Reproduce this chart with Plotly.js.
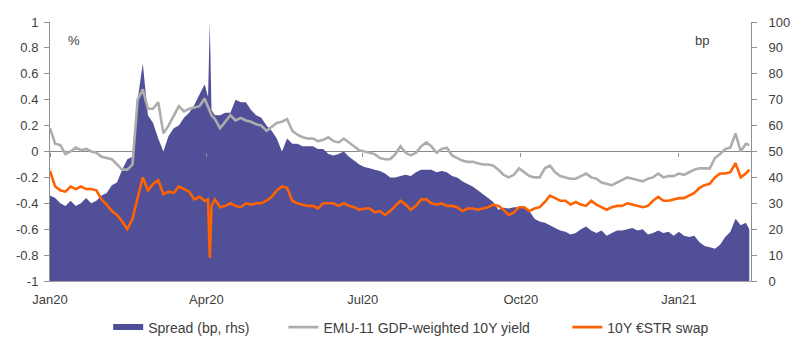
<!DOCTYPE html>
<html><head><meta charset="utf-8">
<script src="https://cdn.plot.ly/plotly-3.0.1.min.js"></script>
<style>html,body{margin:0;padding:0;background:#fff}#chart{width:800px;height:354px}</style>
</head><body><div id="chart"></div>
<script>
const dates = [
'2020-01-01','2020-01-04','2020-01-07','2020-01-10','2020-01-13','2020-01-16','2020-01-19','2020-01-22','2020-01-25','2020-01-28','2020-01-31',
'2020-02-03','2020-02-06','2020-02-09','2020-02-12','2020-02-15','2020-02-18','2020-02-21','2020-02-24','2020-02-27',
'2020-03-01','2020-03-04','2020-03-07','2020-03-10','2020-03-13','2020-03-16','2020-03-19','2020-03-22','2020-03-25','2020-03-28','2020-03-31',
'2020-04-02','2020-04-03','2020-04-04','2020-04-06','2020-04-09','2020-04-12','2020-04-15','2020-04-18','2020-04-21','2020-04-24','2020-04-27','2020-04-30',
'2020-05-03','2020-05-06','2020-05-09','2020-05-12','2020-05-15','2020-05-18','2020-05-21','2020-05-24','2020-05-27','2020-05-30',
'2020-06-02','2020-06-05','2020-06-08','2020-06-11','2020-06-14','2020-06-17','2020-06-20','2020-06-23','2020-06-26','2020-06-29',
'2020-07-02','2020-07-05','2020-07-08','2020-07-11','2020-07-14','2020-07-17','2020-07-20','2020-07-23','2020-07-26','2020-07-29',
'2020-08-01','2020-08-04','2020-08-07','2020-08-10','2020-08-13','2020-08-16','2020-08-19','2020-08-22','2020-08-25','2020-08-28','2020-08-31',
'2020-09-03','2020-09-06','2020-09-09','2020-09-12','2020-09-15','2020-09-18','2020-09-21','2020-09-24','2020-09-27','2020-09-30',
'2020-10-03','2020-10-06','2020-10-09','2020-10-12','2020-10-15','2020-10-18','2020-10-21','2020-10-24','2020-10-27','2020-10-30',
'2020-11-02','2020-11-05','2020-11-08','2020-11-11','2020-11-14','2020-11-17','2020-11-20','2020-11-23','2020-11-26','2020-11-29',
'2020-12-02','2020-12-05','2020-12-08','2020-12-11','2020-12-14','2020-12-17','2020-12-20','2020-12-23','2020-12-26','2020-12-29',
'2021-01-01','2021-01-04','2021-01-07','2021-01-10','2021-01-13','2021-01-16','2021-01-19','2021-01-22','2021-01-25','2021-01-28','2021-01-31',
'2021-02-03','2021-02-06','2021-02-09','2021-02-11'
];

// EMU-11 GDP-weighted 10Y yield (%)
const emuYield = [
0.18,0.06,0.05,-0.02,0.00,0.03,0.01,0.02,0.00,-0.01,-0.04,
-0.05,-0.06,-0.10,-0.14,-0.14,-0.10,0.40,0.48,0.33,
0.33,0.38,0.14,0.20,0.27,0.35,0.31,0.33,0.34,0.35,0.41,
0.34,0.30,0.28,0.25,0.18,0.23,0.28,0.24,0.26,0.24,0.23,0.21,
0.20,0.16,0.19,0.22,0.23,0.25,0.16,0.13,0.11,0.10,
0.10,0.08,0.09,0.11,0.08,0.07,0.10,0.07,0.04,0.01,
0.00,-0.01,-0.02,-0.05,-0.06,-0.06,-0.02,0.04,-0.01,-0.03,
-0.01,0.04,0.07,0.04,-0.01,0.02,0.03,-0.03,-0.05,-0.07,-0.08,
-0.08,-0.09,-0.10,-0.10,-0.11,-0.14,-0.18,-0.20,-0.18,-0.13,
-0.16,-0.19,-0.20,-0.20,-0.13,-0.11,-0.16,-0.19,-0.20,-0.21,
-0.21,-0.19,-0.17,-0.20,-0.21,-0.24,-0.25,-0.26,-0.24,-0.22,
-0.20,-0.21,-0.22,-0.23,-0.21,-0.20,-0.17,-0.20,-0.19,-0.19,
-0.17,-0.18,-0.16,-0.14,-0.13,-0.13,-0.13,-0.05,-0.02,0.02,0.03,
0.14,0.00,0.06,0.05
];

// 10Y €STR swap (%)
const estrSwap = [
-0.15,-0.27,-0.30,-0.31,-0.27,-0.29,-0.27,-0.29,-0.29,-0.30,-0.37,
-0.41,-0.46,-0.49,-0.54,-0.60,-0.52,-0.36,-0.20,-0.30,
-0.25,-0.22,-0.33,-0.31,-0.32,-0.27,-0.29,-0.31,-0.37,-0.35,-0.38,
-0.37,-0.82,-0.42,-0.37,-0.43,-0.42,-0.40,-0.42,-0.43,-0.40,-0.41,-0.40,
-0.40,-0.38,-0.35,-0.30,-0.27,-0.28,-0.38,-0.40,-0.41,-0.42,
-0.42,-0.44,-0.40,-0.40,-0.40,-0.42,-0.40,-0.42,-0.43,-0.45,
-0.44,-0.44,-0.47,-0.46,-0.49,-0.46,-0.42,-0.38,-0.41,-0.45,
-0.42,-0.37,-0.37,-0.40,-0.41,-0.40,-0.42,-0.42,-0.43,-0.46,-0.44,
-0.44,-0.45,-0.44,-0.43,-0.41,-0.42,-0.45,-0.49,-0.47,-0.43,
-0.43,-0.46,-0.44,-0.43,-0.39,-0.34,-0.36,-0.38,-0.38,-0.41,
-0.39,-0.41,-0.42,-0.38,-0.41,-0.43,-0.45,-0.43,-0.42,-0.42,
-0.40,-0.41,-0.42,-0.43,-0.42,-0.38,-0.35,-0.38,-0.38,-0.37,
-0.36,-0.36,-0.34,-0.32,-0.28,-0.26,-0.25,-0.20,-0.17,-0.17,-0.16,
-0.09,-0.20,-0.17,-0.14
];

// Spread (bp, rhs)
const spreadBp = [
33,32,30,29,31,29,30,32,30,31,33,
34,37,38,43,47,48,70,84,64,
61,55,50,56,59,60,63,65,68,72,76,
71,100,66,64,64,65,65,70,69,69,66,64,
63,60,58,55,50,55,53,53,52,52,
52,51,51,49,48.5,49,50,48,46.5,45,
44,43.5,43,42.5,41.5,40,40,40.5,41,40.5,
42,43,43,43,42,42.5,42,40.5,40,38.5,37.5,
36.5,35,33.5,32,30.5,27.5,28.3,28,28.5,28.5,
29,27,24,23,22.5,21.5,20.5,19.5,19,18,
18.5,20,21,19.5,18.5,19.5,17.5,18.5,19.5,19.5,
20,20.5,19.5,20,18,18.5,19.5,18.5,19,17.5,
19,17.5,17,17.5,15,13.5,13,12.5,14,17,19,
24,21.5,22.5,20
];

const leftTickVals = [-1,-0.8,-0.6,-0.4,-0.2,0,0.2,0.4,0.6,0.8,1];
const leftTickText = ['-1','-0.8','-0.6','-0.4','-0.2','0','0.2','0.4','0.6','0.8','1'];
const seriesNames = ['Spread (bp, rhs)','EMU-11 GDP-weighted 10Y yield','10Y €STR swap'];

const font = {family:'Liberation Sans, Arial, sans-serif', size:13, color:'#404040'};
const legFont = {family:'Liberation Sans, Arial, sans-serif', size:14, color:'#404040'};
const xr = ['2020-01-01','2021-02-12'];

const traces = [
  {x:dates, y:spreadBp, name:seriesNames[0], type:'scatter', mode:'none', fill:'tozeroy',
   fillcolor:'#514f98', xaxis:'x', yaxis:'y', legend:'legend'},
  {x:dates, y:emuYield, name:seriesNames[1], type:'scatter', mode:'lines',
   line:{color:'#adadad', width:2.6}, xaxis:'x2', yaxis:'y2', legend:'legend2'},
  {x:dates, y:estrSwap, name:seriesNames[2], type:'scatter', mode:'lines',
   line:{color:'#ff6200', width:2.6}, xaxis:'x2', yaxis:'y2', legend:'legend3'}
];

function leg(x){
  return {orientation:'h', x:x, xanchor:'left', y:-0.175, yanchor:'middle',
          font:legFont, itemwidth:30, bgcolor:'rgba(0,0,0,0)'};
}

const layout = {
  width:800, height:354,
  margin:{l:50, r:49, t:22, b:72},
  paper_bgcolor:'#fff', plot_bgcolor:'#fff',
  font:font,
  showlegend:true,
  legend:leg(0.083),
  legend2:leg(0.333),
  legend3:leg(0.738),
  xaxis:{type:'date', range:xr, tickformat:'%b%y', dtick:'M3', tick0:'2020-01-01',
         showgrid:false, zeroline:false, showline:true, linecolor:'#a0a0a0', linewidth:1,
         ticks:'', ticklabelstandoff:6, tickfont:font},
  xaxis2:{type:'date', range:xr, overlaying:'x', matches:'x', anchor:'free', position:0.5,
          dtick:'M3', tick0:'2020-01-01', showgrid:false, zeroline:false, showline:false,
          ticks:'outside', ticklen:4, tickcolor:'#909090', showticklabels:false},
  yaxis:{range:[0,100], dtick:10, side:'right', showgrid:false, zeroline:false,
         showline:true, linecolor:'#909090', linewidth:1, ticks:'outside', ticklen:5,
         tickcolor:'#909090', tickfont:font, ticklabelstandoff:9},
  yaxis2:{range:[-1,1], overlaying:'y', side:'left', tickvals:leftTickVals, ticktext:leftTickText,
          showgrid:false, zeroline:true, zerolinecolor:'#888888', zerolinewidth:1,
          showline:true, linecolor:'#909090', linewidth:1, ticks:'outside', ticklen:5,
          tickcolor:'#909090', tickfont:font, ticklabelstandoff:3},
  annotations:[
    {text:'%', xref:'paper', yref:'paper', x:0.034, y:0.93, xanchor:'center', yanchor:'middle', showarrow:false, font:font},
    {text:'bp', xref:'paper', yref:'paper', x:0.93, y:0.93, xanchor:'center', yanchor:'middle', showarrow:false, font:font}
  ]
};

Plotly.newPlot('chart', traces, layout, {displayModeBar:false, staticPlot:true});
</script>
</body></html>
